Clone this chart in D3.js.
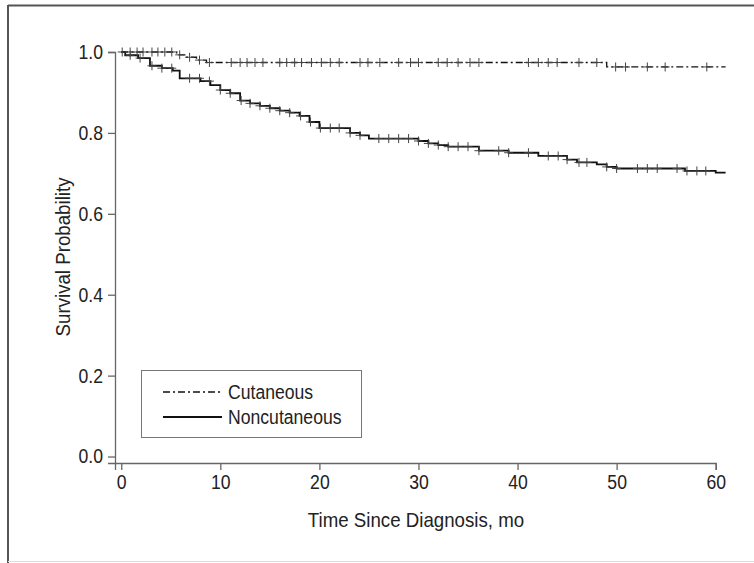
<html>
<head>
<style>
  body { margin: 0; background: #fff; }
  text { font-family: "Liberation Sans", Arial, sans-serif; }
</style>
</head>
<body>
<script src="https://d3js.org/d3.v7.min.js"></script>
<script>

// Kaplan-Meier step data (time in months, survival probability)
var cutTimes = [0, 5.6, 6.6, 7.6, 8.6, 49.0, 61];
var cutSurv  = [1.0, 0.993, 0.987, 0.980, 0.974, 0.963, 0.963];

var nonTimes = [0, 0.4, 1.7, 2.9, 4.1, 5.2, 5.9, 8.0, 9.0, 10.0, 11.0, 12.0, 13.0, 14.0, 15.0, 16.0, 17.0, 18.0,
                19.0, 20.0, 23.1, 24.1, 25.0, 30.0, 31.0, 32.0, 33.0, 36.1, 39.1, 42.1, 45.0, 46.0, 48.0, 49.0,
                50.0, 56.9, 60.0, 61];
var nonSurv  = [1.0, 0.992, 0.985, 0.966, 0.960, 0.954, 0.935, 0.928, 0.918, 0.906, 0.898, 0.880, 0.873, 0.867, 0.861, 0.855, 0.850, 0.842,
                0.827, 0.812, 0.800, 0.794, 0.786, 0.780, 0.774, 0.770, 0.766, 0.756, 0.751, 0.743, 0.734, 0.727, 0.722, 0.716,
                0.712, 0.706, 0.702, 0.702];

// censored observations
var cutCens = [0.1, 0.9, 1.6, 2.2, 3.1, 3.7, 4.4, 5.1, 5.9, 6.9, 7.9, 8.9, 11.1, 12.0, 12.7, 13.5, 14.3, 16.0, 16.7,
               17.5, 18.2, 19.2, 20.2, 21.1, 22.0, 24.1, 24.9, 26.1, 28.0, 29.2, 30.0, 32.0, 32.9, 34.0, 35.2, 36.1,
               41.1, 42.1, 43.1, 44.0, 46.2, 48.0, 49.9, 50.9, 53.1, 54.9, 59.1];
var nonCens = [0.9, 1.9, 3.1, 4.1, 5.1, 6.9, 7.9, 8.9, 10.0, 11.0, 12.1, 13.0, 14.0, 15.0, 16.0, 17.0, 18.1, 19.1, 20.1,
               21.1, 22.0, 23.1, 24.1, 26.0, 27.0, 28.0, 29.0, 30.0, 31.0, 32.0, 33.0, 34.0, 35.0, 36.1, 38.1, 39.1,
               41.1, 43.1, 44.1, 45.0, 46.2, 47.0, 49.0, 50.0, 52.1, 53.1, 54.1, 56.1, 57.1, 58.1, 59.0];

var xTicks = [0, 10, 20, 30, 40, 50, 60];
var yTicks = [0, 0.2, 0.4, 0.6, 0.8, 1.0];
var groups = ["Cutaneous", "Noncutaneous"];

var width = 754,
    height = 563;

var axisColor = '#666',
    textColor = '#222',
    fontSize = 20;

var svg = d3.select('body').append('svg')
    .attr('width', width)
    .attr('height', height);

// squeeze text horizontally to mimic the condensed face of the original
function condense(sel, factor) {
    sel.each(function() {
        var w = this.getComputedTextLength();
        d3.select(this)
            .attr('textLength', w * factor)
            .attr('lengthAdjust', 'spacingAndGlyphs');
    });
}

// figure frame
svg.append('line').attr('x1', 8).attr('x2', width).attr('y1', 5.5).attr('y2', 5.5)
    .attr('stroke', '#555').attr('stroke-width', 2);
svg.append('line').attr('x1', 8).attr('x2', 8).attr('y1', 5).attr('y2', height)
    .attr('stroke', '#555').attr('stroke-width', 2);
svg.append('line').attr('x1', 8).attr('x2', width).attr('y1', 561.5).attr('y2', 561.5)
    .attr('stroke', '#ddd').attr('stroke-width', 1);

var x = d3.scaleLinear().domain([-0.63, 60]).range([115, 715.7]);
var y = d3.scaleLinear().domain([-0.016, 1]).range([463, 52]);

// axes
var xAxis = svg.append('g')
    .attr('transform', 'translate(0,463)')
    .call(d3.axisBottom(x).tickValues(xTicks).tickFormat(d3.format('d')).tickSizeOuter(0).tickSize(7).tickPadding(5));

var yAxis = svg.append('g')
    .attr('transform', 'translate(115,0)')
    .call(d3.axisLeft(y).tickValues(yTicks).tickFormat(d3.format('.1f')).tickSizeOuter(0).tickSize(7).tickPadding(5));

[xAxis, yAxis].forEach(function(g) {
    g.attr('font-family', null).attr('font-size', null);
    g.select('.domain').attr('stroke', axisColor).attr('stroke-width', 1.3);
    g.selectAll('.tick line').attr('stroke', axisColor).attr('stroke-width', 1.3);
    g.selectAll('.tick text')
        .attr('fill', textColor)
        .style('font-size', fontSize + 'px')
        .call(condense, 0.88);
});

// axis titles
svg.append('text')
    .attr('x', 416)
    .attr('y', 527)
    .attr('text-anchor', 'middle')
    .attr('fill', textColor)
    .style('font-size', '21px')
    .text('Time Since Diagnosis, mo')
    .call(condense, 0.89);

svg.append('text')
    .attr('transform', 'translate(70,257) rotate(-90)')
    .attr('text-anchor', 'middle')
    .attr('fill', textColor)
    .style('font-size', '21px')
    .text('Survival Probability')
    .call(condense, 0.89);

// KM curves
function stepData(times, surv) {
    return times.map(function(t, i) { return [t, surv[i]]; });
}

function survAt(times, surv, t) {
    var v = surv[0];
    for (var i = 0; i < times.length; i++) {
        if (times[i] <= t) v = surv[i];
    }
    return v;
}

var line = d3.line()
    .curve(d3.curveStepAfter)
    .x(function(d) { return x(d[0]); })
    .y(function(d) { return y(d[1]); });

svg.append('path')
    .datum(stepData(nonTimes, nonSurv))
    .attr('d', line)
    .attr('fill', 'none')
    .attr('stroke', '#111')
    .attr('stroke-width', 1.8);

svg.append('path')
    .datum(stepData(cutTimes, cutSurv))
    .attr('d', line)
    .attr('fill', 'none')
    .attr('stroke', '#111')
    .attr('stroke-width', 1.3)
    .attr('stroke-dasharray', '7,3,2,3');

// censor marks
function drawCensors(times, surv, cens) {
    var g = svg.append('g');
    cens.forEach(function(t) {
        var cx = x(t),
            cy = y(survAt(times, surv, t));
        g.append('line').attr('x1', cx).attr('x2', cx).attr('y1', cy - 4.5).attr('y2', cy + 4.5)
            .attr('stroke', '#444').attr('stroke-width', 1);
        g.append('line').attr('x1', cx - 4.5).attr('x2', cx + 4.5).attr('y1', cy).attr('y2', cy)
            .attr('stroke', '#444').attr('stroke-width', 1);
    });
}
drawCensors(cutTimes, cutSurv, cutCens);
drawCensors(nonTimes, nonSurv, nonCens);

// legend
var legend = svg.append('g');
legend.append('rect')
    .attr('x', 141.5).attr('y', 370.5)
    .attr('width', 220).attr('height', 67)
    .attr('fill', 'none')
    .attr('stroke', '#777')
    .attr('stroke-width', 1);

var legendY = [392, 417];
groups.forEach(function(name, i) {
    legend.append('line')
        .attr('x1', 163).attr('x2', 222)
        .attr('y1', legendY[i]).attr('y2', legendY[i])
        .attr('stroke', '#111')
        .attr('stroke-width', i === 0 ? 1.3 : 1.8)
        .attr('stroke-dasharray', i === 0 ? '7,3,2,3' : null);
    legend.append('text')
        .attr('x', 228)
        .attr('y', legendY[i] + 7)
        .attr('fill', textColor)
        .style('font-size', fontSize + 'px')
        .text(name)
        .call(condense, 0.88);
});

</script>
</body>
</html>
